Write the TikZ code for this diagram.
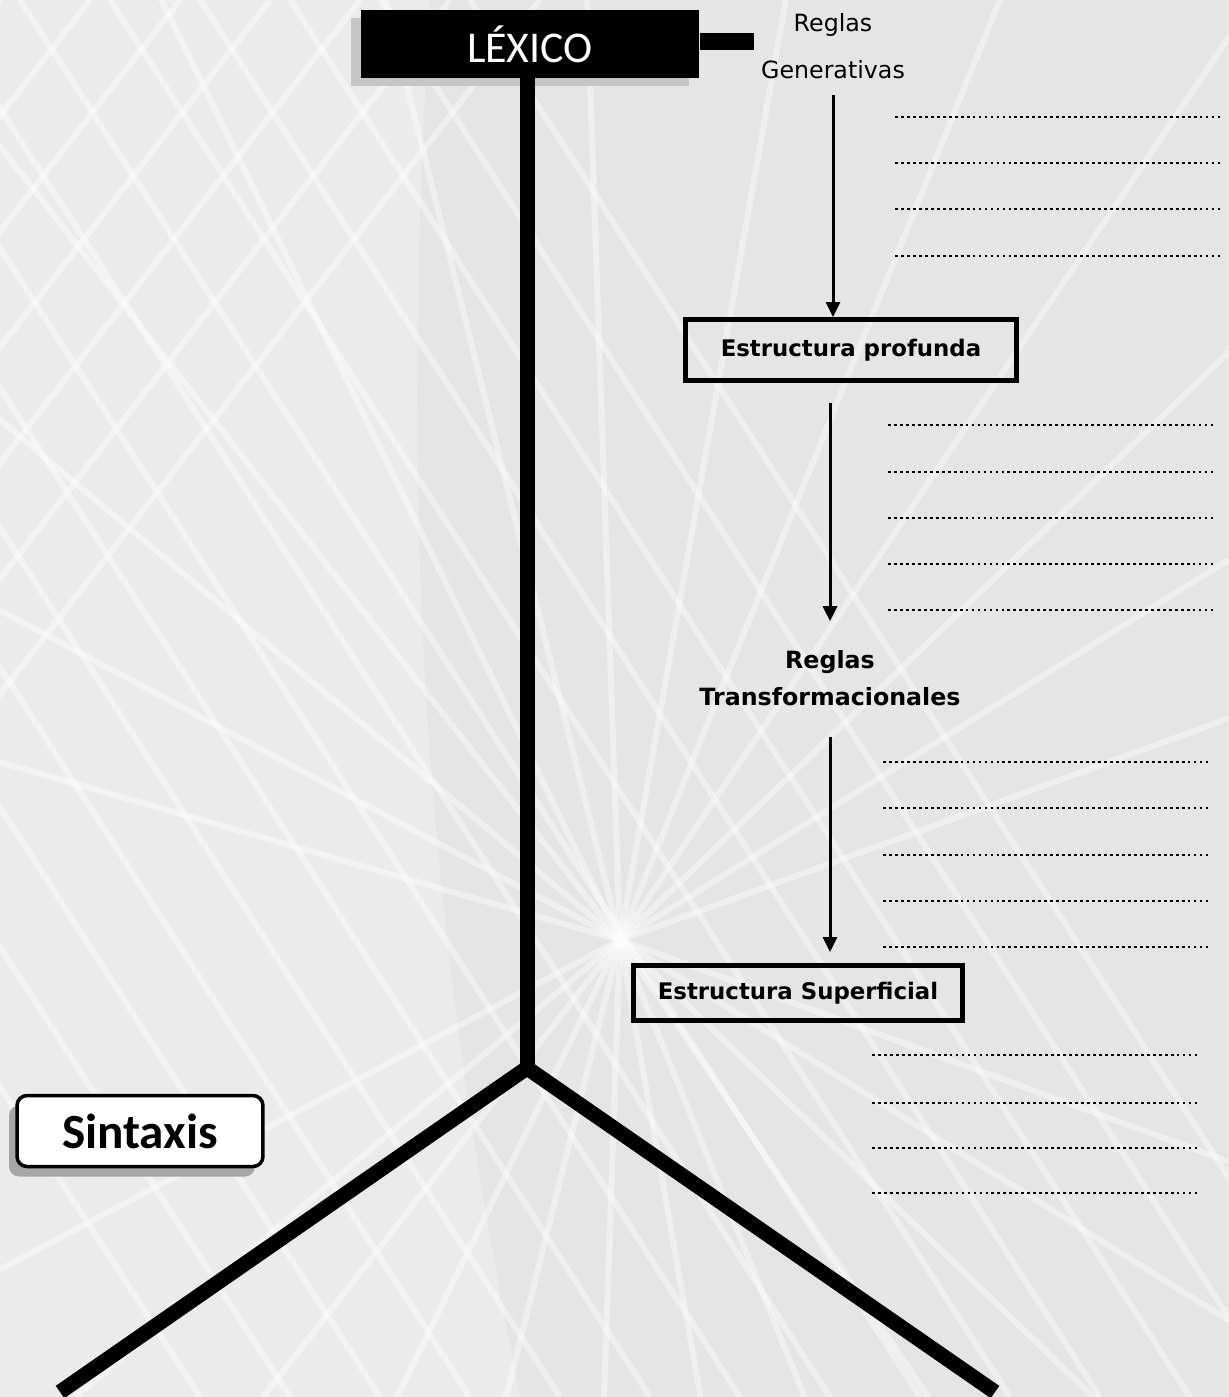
\documentclass[tikz,border=0pt]{standalone}
\usepackage{fontspec}
\setmainfont{DejaVu Sans}
\newfontfamily\calfont{Carlito}
\usetikzlibrary{arrows.meta,shadows}

\tikzset{
  tronco/.style={line width=0.3cm, line cap=butt},
  flecha/.style={line width=1.7pt, -{Triangle[length=0.3cm,width=0.28cm]}},
  caja/.style={draw, line width=0.1cm, inner sep=0pt, font=\bfseries\fontsize{13}{15}\selectfont},
  rotulo/.style={align=center, font=\fontsize{13.5}{27}\selectfont},
  puntos/.style={line width=1.6pt, dash pattern=on 1.6pt off 1.8pt},
  veta/.style={white, line width=0.12cm, opacity=.4}
}

\begin{document}
\begin{tikzpicture}[x=0.02cm, y=-0.02cm]
      \useasboundingbox (0,0) rectangle (1229,1397);
      \fill[gray!20] (0,0) rectangle (1229,1397);
      \fill[white, opacity=.25] (0,0) -- (430,0) .. controls (400,500) and (420,900) .. (520,1397) -- (0,1397) -- cycle;
      \foreach \a in {196,208,...,344}
        \draw[veta] (620,940) -- ++(\a:1500);
      \foreach \a in {20,32,...,160}
        \draw[veta] (620,940) -- ++(\a:900);
      \foreach \i in {-700,-610,...,500}
        \draw[veta] (\i,0) -- ++(900,1397);
      \foreach \i in {0,90,...,600}
        \draw[veta] (\i,0) -- ++(-700,900);

      \node[fill=black, text=white, minimum width=6.78cm, minimum height=1.36cm,
            font=\calfont\fontsize{25}{30}\selectfont,
            drop shadow={shadow xshift=-0.2cm, shadow yshift=-0.16cm, fill=gray!45, opacity=1}]
            (lexico) at (530,44) {LÉXICO};
      \node[rotulo] (gen) at (833,46) {Reglas\\Generativas};
      \node[caja, minimum width=6.64cm, minimum height=1.22cm] (prof) at (851,350) {Estructura profunda};
      \node[rotulo, font=\bfseries\fontsize{13.5}{21}\selectfont] (regl) at (830,678) {Reglas\\Transformacionales};
      \node[caja, minimum width=6.6cm, minimum height=1.1cm] (sup) at (798,993) {Estructura Superficial};
      \node[draw, fill=white, line width=0.07cm, rounded corners=0.2cm,
            minimum width=4.92cm, minimum height=1.42cm,
            font=\calfont\bfseries\fontsize{28}{32}\selectfont,
            drop shadow={shadow xshift=-0.16cm, shadow yshift=-0.2cm, fill=gray!70, opacity=1}]
            (sintaxis) at (140,1131) {Sintaxis};

      \coordinate (nudo) at (527,1068);
      \coordinate (pieI) at (60,1392);
      \coordinate (pieD) at (995,1392);
      \coordinate (barra) at (754,41);
      \draw[tronco] (nudo |- lexico.south) -- (nudo);
      \draw[tronco, line join=miter] (pieI) -- (nudo) -- (pieD);
      \draw[line width=0.34cm] (lexico.east |- barra) -- (barra);

      \draw[flecha, shorten <=0.2cm] (gen.south) -- (gen.south |- prof.north);
      \draw[flecha, shorten <=0.4cm, shorten >=0.46cm] (regl.north |- prof.south) -- (regl.north);
      \draw[flecha, shorten <=0.5cm, shorten >=0.22cm] (regl.south) -- (regl.south |- sup.north);

      \foreach \y in {117,163,209,256}
        \draw[puntos] (895,\y) -- (1222,\y);
      \foreach \y in {425,472,518,564,610}
        \draw[puntos] (888,\y) -- (1215,\y);
      \foreach \y in {762,808,855,901,947}
        \draw[puntos] (883,\y) -- (1210,\y);
      \foreach \y in {1055,1103,1148,1193}
        \draw[puntos] (872,\y) -- (1198,\y);
\end{tikzpicture}
\end{document}
